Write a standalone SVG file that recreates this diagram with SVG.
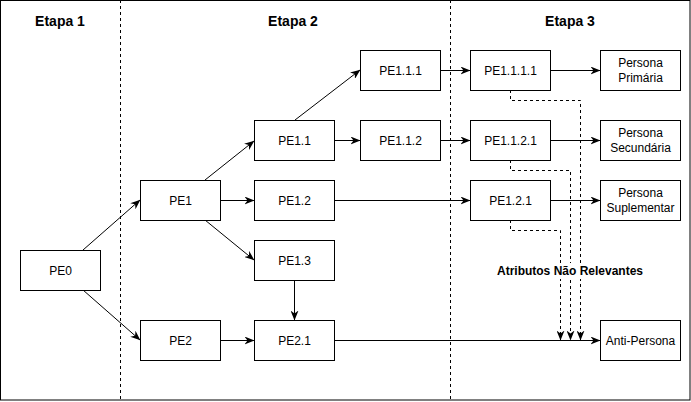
<svg xmlns="http://www.w3.org/2000/svg" width="691" height="402" viewBox="0 0 691 402">
<defs>
<marker id="arr" viewBox="0 0 10 8" refX="9.5" refY="4" markerWidth="10" markerHeight="8" markerUnits="userSpaceOnUse" orient="auto">
<path d="M0,0 L10,4 L0,8 L3,4 z" fill="#000"/>
</marker>
<style>
.node rect{fill:#fff;stroke:#000;stroke-width:1}
.node text{font-family:"Liberation Sans",Arial,sans-serif;font-size:12px;fill:#000;text-anchor:middle;dominant-baseline:central}
.title{font-family:"Liberation Sans",Arial,sans-serif;font-size:14px;font-weight:bold;fill:#000;text-anchor:middle}
.edge{fill:none;stroke:#000;stroke-width:1;marker-end:url(#arr)}
.dedge{fill:none;stroke:#000;stroke-width:1;stroke-dasharray:3 3;marker-end:url(#arr)}
.sep{stroke:#000;stroke-width:1;stroke-dasharray:3 3}
.lbl{font-family:"Liberation Sans",Arial,sans-serif;font-size:12px;font-weight:bold;fill:#000;text-anchor:middle;dominant-baseline:central}
</style>
</defs>
<rect x="0.5" y="0.5" width="689.5" height="399.5" fill="#fff" stroke="#000"/>
<g id="lanes">
<line class="sep" x1="120.5" y1="0" x2="120.5" y2="400"/>
<line class="sep" x1="450.5" y1="0" x2="450.5" y2="400"/>
<text class="title" x="60" y="26">Etapa 1</text>
<text class="title" x="293" y="26">Etapa 2</text>
<text class="title" x="570" y="26">Etapa 3</text>
</g>
<g id="connectors">
<path class="edge" d="M83,250 L140,200"/>
<path class="edge" d="M83,290 L140,340"/>
<path class="edge" d="M205,180 L254,141"/>
<path class="edge" d="M220,200.5 L254,200.5"/>
<path class="edge" d="M205,220 L254,260"/>
<path class="edge" d="M295,120 L360,70"/>
<path class="edge" d="M334,140.5 L360,140.5"/>
<path class="edge" d="M294.5,280 L294.5,320"/>
<path class="edge" d="M220,340.5 L254,340.5"/>
<path class="edge" d="M334,200.5 L470,200.5"/>
<path class="edge" d="M440,70.5 L470,70.5"/>
<path class="edge" d="M440,140.5 L470,140.5"/>
<path class="edge" d="M550,70.5 L600,70.5"/>
<path class="edge" d="M550,140.5 L600,140.5"/>
<path class="edge" d="M550,200.5 L600,200.5"/>
<path class="edge" d="M334,340.5 L600,340.5"/>
<path class="dedge" d="M510.5,90 L510.5,100.5 L580.5,100.5 L580.5,340"/>
<path class="dedge" d="M510.5,160 L510.5,170.5 L570.5,170.5 L570.5,340"/>
<path class="dedge" d="M510.5,220 L510.5,230.5 L560.5,230.5 L560.5,340"/>
<rect x="496" y="263" width="148" height="16" fill="#fff"/>
<text class="lbl" x="570" y="271">Atributos Não Relevantes</text>
</g>
<g id="PE0" class="node"><rect x="20.5" y="250.5" width="80" height="40"/><text x="60.5" y="270.5">PE0</text></g>
<g id="PE1" class="node"><rect x="140.5" y="180.5" width="80" height="40"/><text x="180.5" y="200.5">PE1</text></g>
<g id="PE2" class="node"><rect x="140.5" y="320.5" width="80" height="40"/><text x="180.5" y="340.5">PE2</text></g>
<g id="PE1.1" class="node"><rect x="254.5" y="120.5" width="80" height="40"/><text x="294.5" y="140.5">PE1.1</text></g>
<g id="PE1.2" class="node"><rect x="254.5" y="180.5" width="80" height="40"/><text x="294.5" y="200.5">PE1.2</text></g>
<g id="PE1.3" class="node"><rect x="254.5" y="240.5" width="80" height="40"/><text x="294.5" y="260.5">PE1.3</text></g>
<g id="PE2.1" class="node"><rect x="254.5" y="320.5" width="80" height="40"/><text x="294.5" y="340.5">PE2.1</text></g>
<g id="PE1.1.1" class="node"><rect x="360.5" y="50.5" width="80" height="40"/><text x="400.5" y="70.5">PE1.1.1</text></g>
<g id="PE1.1.2" class="node"><rect x="360.5" y="120.5" width="80" height="40"/><text x="400.5" y="140.5">PE1.1.2</text></g>
<g id="PE1.1.1.1" class="node"><rect x="470.5" y="50.5" width="80" height="40"/><text x="510.5" y="70.5">PE1.1.1.1</text></g>
<g id="PE1.1.2.1" class="node"><rect x="470.5" y="120.5" width="80" height="40"/><text x="510.5" y="140.5">PE1.1.2.1</text></g>
<g id="PE1.2.1" class="node"><rect x="470.5" y="180.5" width="80" height="40"/><text x="510.5" y="200.5">PE1.2.1</text></g>
<g id="PersonaPrimaria" class="node"><rect x="600.5" y="50.5" width="80" height="40"/><text x="640.5" y="63">Persona</text><text x="640.5" y="78">Primária</text></g>
<g id="PersonaSecundaria" class="node"><rect x="600.5" y="120.5" width="80" height="40"/><text x="640.5" y="133">Persona</text><text x="640.5" y="148">Secundária</text></g>
<g id="PersonaSuplementar" class="node"><rect x="600.5" y="180.5" width="80" height="40"/><text x="640.5" y="193">Persona</text><text x="640.5" y="208">Suplementar</text></g>
<g id="AntiPersona" class="node"><rect x="600.5" y="320.5" width="80" height="40"/><text x="640.5" y="340.5">Anti-Persona</text></g>
</svg>
